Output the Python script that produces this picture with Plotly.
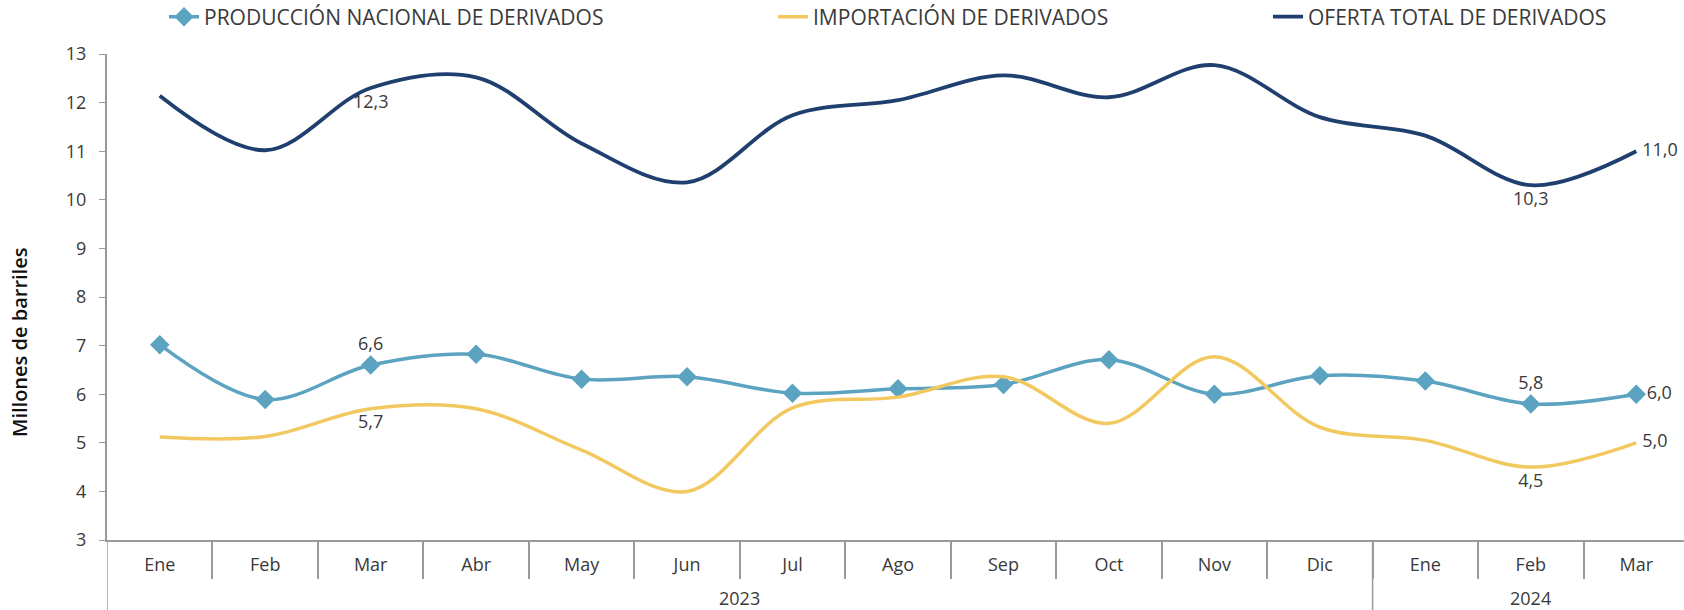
import plotly.graph_objects as go

years = ["2023"] * 12 + ["2024"] * 3
months = ["Ene", "Feb", "Mar", "Abr", "May", "Jun", "Jul", "Ago", "Sep", "Oct", "Nov", "Dic", "Ene", "Feb", "Mar"]

produccion = [7.02, 5.89, 6.6, 6.82, 6.31, 6.36, 6.02, 6.11, 6.2, 6.71, 6.0, 6.38, 6.27, 5.8, 6.0]
importacion = [5.12, 5.13, 5.7, 5.7, 4.85, 4.0, 5.72, 5.94, 6.36, 5.4, 6.77, 5.32, 5.05, 4.5, 5.0]
oferta = [12.14, 11.02, 12.3, 12.52, 11.16, 10.36, 11.74, 12.05, 12.56, 12.11, 12.77, 11.7, 11.32, 10.3, 11.0]

labeled_idx = [2, 13, 14]

def labels(vals):
    return [f"{v:.1f}".replace(".", ",") if i in labeled_idx else "" for i, v in enumerate(vals)]

FONT = "Open Sans"
TXT = "#3a3a3a"
AX = "#9a9a9a"
C_PROD = "#5BA3C1"
C_IMP = "#F2C960"
C_OF = "#1F406F"

W, H = 1689, 610
ML, MR, MT, MB = 107, 0, 54, 70
PH = H - MT - MB
PW = W - ML - MR

xs = list(range(len(months)))

fig = go.Figure()
fig.add_trace(go.Scatter(
    x=xs, y=produccion, name="PRODUCCIÓN NACIONAL DE DERIVADOS",
    mode="lines+markers+text", line=dict(color=C_PROD, width=3.5, shape="spline", smoothing=1),
    marker=dict(symbol="diamond", size=15, color=C_PROD),
    text=labels(produccion),
    textposition=["top center"] * 14 + ["middle right"],
    textfont=dict(family=FONT, size=18, color=TXT),
    cliponaxis=False, legend="legend",
))
fig.add_trace(go.Scatter(
    x=xs, y=importacion, name="IMPORTACIÓN DE DERIVADOS",
    mode="lines+markers+text", line=dict(color=C_IMP, width=3.5, shape="spline", smoothing=1),
    marker=dict(size=8, color="rgba(0,0,0,0)"),
    text=labels(importacion),
    textposition=["bottom center"] * 14 + ["middle right"],
    textfont=dict(family=FONT, size=18, color=TXT),
    cliponaxis=False, legend="legend2",
))
fig.add_trace(go.Scatter(
    x=xs, y=oferta, name="OFERTA TOTAL DE DERIVADOS",
    mode="lines+markers+text", line=dict(color=C_OF, width=3.8, shape="spline", smoothing=1),
    marker=dict(size=8, color="rgba(0,0,0,0)"),
    text=labels(oferta),
    textposition=["bottom center"] * 14 + ["middle right"],
    textfont=dict(family=FONT, size=18, color=TXT),
    cliponaxis=False, legend="legend3",
))

# year groups: boundaries and centers derived from the years list
groups = []
start = 0
for i in range(1, len(years) + 1):
    if i == len(years) or years[i] != years[start]:
        groups.append((years[start], start, i - 1))
        start = i

bottom = -MB / PH
shapes = []
annotations = []
for name, a, b in groups:
    shapes.append(dict(type="line", xref="x", yref="paper", x0=a - 0.5, x1=a - 0.5,
                       y0=0, y1=bottom, line=dict(color=AX, width=1.5)))
    annotations.append(dict(text=name, x=(a + b) / 2, xref="x", y=-58 / PH, yref="paper",
                            showarrow=False, yanchor="middle", xanchor="center",
                            font=dict(family=FONT, size=18, color=TXT)))

annotations.append(dict(text="Millones de barriles", textangle=-90,
                        x=(19 - ML) / PW, xref="paper", xanchor="center",
                        y=(H - MB - 343) / PH, yref="paper", yanchor="middle", showarrow=False,
                        font=dict(family=FONT, size=20, color="#111111", weight=600)))

leg_common = dict(orientation="h", yref="container", yanchor="middle", y=1 - 17 / H, xanchor="left",
                  font=dict(family=FONT, size=21, color=TXT), bgcolor="rgba(0,0,0,0)")
fig.update_layout(
    width=W, height=H,
    margin=dict(l=ML, r=MR, t=MT, b=MB),
    paper_bgcolor="white", plot_bgcolor="white",
    font=dict(family=FONT, color=TXT),
    legend=dict(x=(164 - ML) / PW, **leg_common),
    legend2=dict(x=(773 - ML) / PW, **leg_common),
    legend3=dict(x=(1268 - ML) / PW, **leg_common),
    shapes=shapes,
    annotations=annotations,
    xaxis=dict(
        range=[-0.5, len(months) - 0.5], tickmode="array", tickvals=xs, ticktext=months,
        showgrid=False, zeroline=False, showline=True, linecolor=AX, linewidth=2,
        ticks="", ticklabelstandoff=7, automargin=False,
        minor=dict(tickmode="array", tickvals=[v + 0.5 for v in xs], ticks="outside",
                   ticklen=37, tickcolor=AX, tickwidth=1.5, showgrid=False),
        tickfont=dict(family=FONT, size=18, color=TXT),
    ),
    yaxis=dict(
        range=[3, 13], dtick=1, showgrid=False, zeroline=False,
        showline=True, linecolor=AX, linewidth=2, automargin=False,
        ticks="outside", ticklen=6, tickcolor=AX, ticklabelstandoff=9,
        tickfont=dict(family=FONT, size=18, color=TXT),
    ),
    showlegend=True,
)

fig.write_html("out.html", config={"displayModeBar": False},
               post_script="document.body.style.margin='0';document.body.style.overflow='hidden';")
